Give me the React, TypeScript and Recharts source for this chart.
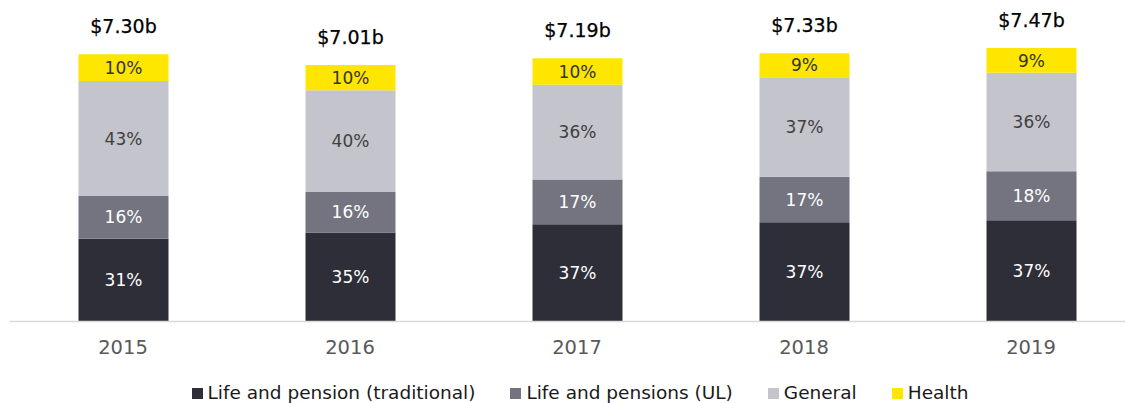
import React from 'react';
import { BarChart, Bar, XAxis, YAxis, LabelList, Legend } from 'recharts';

const FONT = '"DejaVu Sans", Verdana, sans-serif';

const years = ['2015', '2016', '2017', '2018', '2019'];
const totals = [7.3, 7.01, 7.19, 7.33, 7.47];
const totalLabels = ['$7.30b', '$7.01b', '$7.19b', '$7.33b', '$7.47b'];
const lifeTraditionalPct = [31, 35, 37, 37, 37];
const lifeULPct = [16, 16, 17, 17, 18];
const generalPct = [43, 40, 36, 37, 36];
const healthPct = [10, 10, 10, 9, 9];
const seriesNames = ['Life and pension (traditional)', 'Life and pensions (UL)', 'General', 'Health'];

const COLORS = ['#2e2e38', '#747480', '#c4c4cd', '#ffe600'];

const data = years.map((year, i) => {
  const sum = lifeTraditionalPct[i] + lifeULPct[i] + generalPct[i] + healthPct[i];
  const part = (p: number) => (totals[i] * p) / sum;
  return {
    year,
    trad: part(lifeTraditionalPct[i]),
    ul: part(lifeULPct[i]),
    gen: part(generalPct[i]),
    health: part(healthPct[i]),
    tradPct: lifeTraditionalPct[i],
    ulPct: lifeULPct[i],
    genPct: generalPct[i],
    healthPct: healthPct[i],
    totalLabel: totalLabels[i],
  };
});

const makeCenterLabel = (fill: string) => (props: any) => {
  const vb = props.viewBox || props;
  const x = vb.x ?? props.x;
  const y = vb.y ?? props.y;
  const w = vb.width ?? props.width;
  const h = vb.height ?? props.height;
  return (
    <text
      x={x + w / 2}
      y={y + h / 2}
      dy="0.36em"
      textAnchor="middle"
      fill={fill}
      fontSize={17}
      fontFamily={FONT}
    >
      {props.value}%
    </text>
  );
};

const TotalLabel = (props: any) => {
  const vb = props.viewBox || props;
  const x = vb.x ?? props.x;
  const y = vb.y ?? props.y;
  const w = vb.width ?? props.width;
  return (
    <text
      x={x + w / 2}
      y={y - 21}
      textAnchor="middle"
      fill="#000000"
      fontSize={19}
      fontFamily={FONT}
      stroke="#000000"
      strokeWidth={0.25}
    >
      {props.value}
    </text>
  );
};

const YearTick = (props: any) => {
  const { x, y, payload } = props;
  return (
    <text
      x={x}
      y={y + 32}
      textAnchor="middle"
      fill="#595959"
      fontSize={19.5}
      fontFamily={FONT}
    >
      {payload.value}
    </text>
  );
};

const LegendContent = () => (
  <div
    style={{
      display: 'flex',
      justifyContent: 'center',
      alignItems: 'center',
      height: 18,
      lineHeight: '18px',
      fontFamily: FONT,
      fontSize: 18.5,
      color: '#1a1a1a',
      whiteSpace: 'nowrap',
      paddingLeft: 6,
    }}
  >
    {seriesNames.map((name, i) => (
      <div
        key={name}
        style={{ display: 'flex', alignItems: 'center', marginLeft: i === 0 ? 0 : 35 }}
      >
        <span
          style={{
            display: 'inline-block',
            width: 11,
            height: 11,
            background: COLORS[i],
            marginRight: 5,
          }}
        />
        <span>{name}</span>
      </div>
    ))}
  </div>
);

export default function App() {
  return (
    <div
      style={{
        position: 'fixed',
        left: 0,
        top: 0,
        width: 1125,
        height: 403,
        overflow: 'hidden',
        background: '#ffffff',
      }}
    >
      <BarChart
        width={1150}
        height={402}
        data={data}
        margin={{ top: 28.7, right: 5.5, bottom: 0, left: 9.5 }}
        barSize={90}
      >
        <XAxis
          dataKey="year"
          axisLine={{ stroke: '#d9d9d9', strokeWidth: 1.5 }}
          tickLine={false}
          tickSize={0}
          tickMargin={0}
          height={62.5}
          tick={<YearTick />}
          interval={0}
        />
        <YAxis hide domain={[0, 8]} />
        <Legend verticalAlign="bottom" height={18} content={<LegendContent />} />
        <Bar dataKey="trad" name={seriesNames[0]} stackId="a" fill={COLORS[0]} isAnimationActive={false}>
          <LabelList dataKey="tradPct" content={makeCenterLabel('#ffffff')} />
        </Bar>
        <Bar dataKey="ul" name={seriesNames[1]} stackId="a" fill={COLORS[1]} isAnimationActive={false}>
          <LabelList dataKey="ulPct" content={makeCenterLabel('#ffffff')} />
        </Bar>
        <Bar dataKey="gen" name={seriesNames[2]} stackId="a" fill={COLORS[2]} isAnimationActive={false}>
          <LabelList dataKey="genPct" content={makeCenterLabel('#404040')} />
        </Bar>
        <Bar dataKey="health" name={seriesNames[3]} stackId="a" fill={COLORS[3]} isAnimationActive={false}>
          <LabelList dataKey="healthPct" content={makeCenterLabel('#333333')} />
          <LabelList dataKey="totalLabel" content={TotalLabel} />
        </Bar>
      </BarChart>
    </div>
  );
}
